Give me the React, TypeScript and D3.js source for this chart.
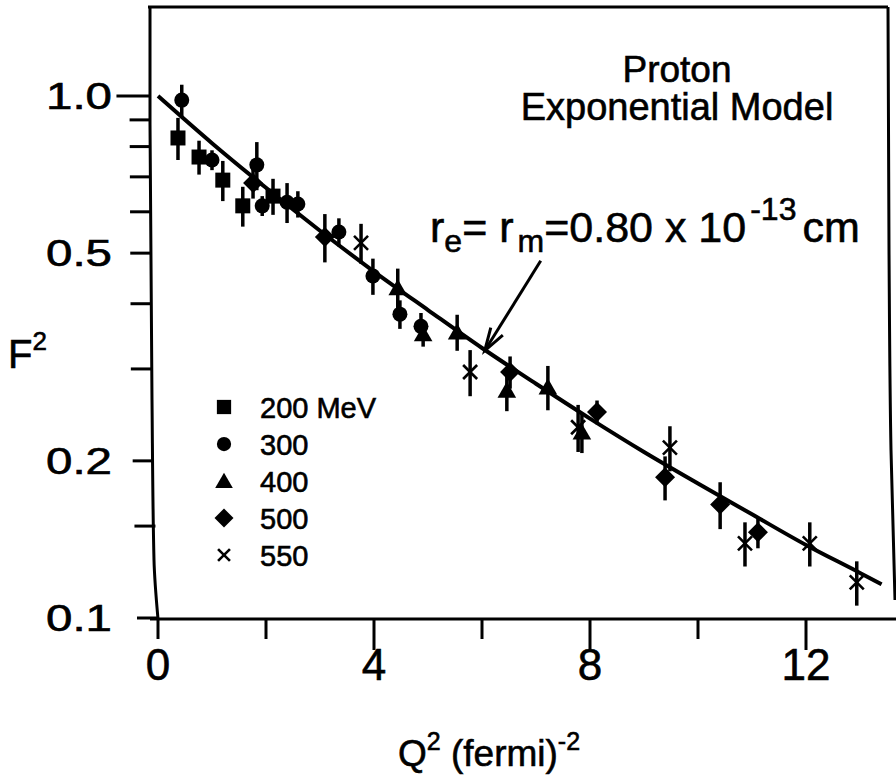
import React from 'react'
import * as d3 from 'd3'

// exponential model curve (Q^2 in fermi^-2, F^2)
const curveQ = [0, 1, 2, 3, 4, 5, 6, 7, 8, 9, 10, 11, 12, 13, 13.4]
const curveF = [1.0, 0.812, 0.667, 0.552, 0.461, 0.389, 0.329, 0.281, 0.241, 0.208, 0.181, 0.158, 0.138, 0.122, 0.116]

// [Q^2, F^2, error]
const mev200 = [
  [0.37, 0.831, 0.077],
  [0.76, 0.764, 0.057],
  [1.2, 0.69, 0.061],
  [1.57, 0.616, 0.054],
  [2.13, 0.643, 0.051],
]
const mev300 = [
  [0.44, 0.982, 0.069],
  [1.0, 0.754, 0.033],
  [1.83, 0.738, 0.078],
  [1.93, 0.616, 0.027],
  [2.39, 0.626, 0.055],
  [2.59, 0.621, 0.036],
  [3.35, 0.549, 0.034],
  [3.98, 0.452, 0.036],
  [4.48, 0.382, 0.024],
  [4.87, 0.362, 0.022],
]
const mev400 = [
  [4.44, 0.429, 0.038],
  [4.91, 0.35, 0.019],
  [5.54, 0.353, 0.028],
  [6.46, 0.273, 0.024],
  [7.22, 0.277, 0.027],
  [7.85, 0.227, 0.02],
]
const mev500 = [
  [1.76, 0.681, 0.045],
  [3.09, 0.537, 0.057],
  [6.52, 0.296, 0.021],
  [8.13, 0.248, 0.013],
  [9.39, 0.186, 0.018],
  [10.41, 0.165, 0.017],
  [11.11, 0.146, 0.01],
]
const mev550 = [
  [3.76, 0.523, 0.046],
  [5.78, 0.296, 0.03],
  [7.78, 0.232, 0.024],
  [9.48, 0.212, 0.021],
  [10.87, 0.139, 0.0135],
  [12.07, 0.139, 0.0135],
  [12.94, 0.117, 0.0114],
]

const legendLabels = ['200 MeV', '300', '400', '500', '550']
const seriesKinds = ['square', 'circle', 'triangle', 'diamond', 'cross']
const seriesData = [mev200, mev300, mev400, mev500, mev550]

const yTicks = [1.0, 0.9, 0.8, 0.7, 0.6, 0.5, 0.4, 0.3, 0.2, 0.15, 0.1]
const yTickLabels = ['1.0', '0.5', '0.2', '0.1']
const xTicks = [0, 2, 4, 6, 8, 10, 12]
const xTickLabels = ['0', '4', '8', '12']

const font = '"Liberation Sans", Arial, Helvetica, sans-serif'
// scanned print is a bit heavier than the regular face
const ink = { fill: '#000', stroke: '#000', strokeWidth: 0.6 }

const x = d3.scaleLinear().domain([0, 12]).range([158, 806])
const y = d3.scaleLog().domain([0.1, 1]).range([618, 96])
// the hand drawn left axis leans a little
const leftX = (py: number) => d3.scaleLinear().domain([7, 400, 619]).range([150, 152, 158])(py)

const Marker = ({ kind, cx, cy, s = 1 }: { kind: string; cx: number; cy: number; s?: number }) => {
  if (kind === 'square') return <rect x={cx - 7.5 * s} y={cy - 7.5 * s} width={15 * s} height={15 * s} fill="#000" />
  if (kind === 'circle') return <circle cx={cx} cy={cy} r={7.5 * s} fill="#000" />
  if (kind === 'triangle') {
    const p = d3.symbol(d3.symbolTriangle, 150 * s * s)()
    return <path d={p || ''} transform={`translate(${cx},${cy + 2})`} fill="#000" />
  }
  if (kind === 'diamond') {
    const r = 10 * s
    return <path d={`M${cx},${cy - r}L${cx + r},${cy}L${cx},${cy + r}L${cx - r},${cy}Z`} fill="#000" />
  }
  const r = 7 * s
  return (
    <g stroke="#000" strokeWidth={2.6}>
      <line x1={cx - r} y1={cy - r} x2={cx + r} y2={cy + r} />
      <line x1={cx - r} y1={cy + r} x2={cx + r} y2={cy - r} />
    </g>
  )
}

export default function App() {
  const line = d3
    .line<number>()
    .x((_, i) => x(curveQ[i]))
    .y((d) => y(d))
    .curve(d3.curveMonotoneX)

  const leftFrame = d3.line().curve(d3.curveMonotoneY)([
    [150, 7],
    [150, 110],
    [152, 400],
    [154, 560],
    [158, 619],
  ])
  const rightFrame = d3.line().curve(d3.curveMonotoneY)([
    [888, 7],
    [889, 250],
    [891, 450],
    [895, 600],
  ])

  // arrow pointing at the curve
  const tipX = x(6.05)
  const tipY = y(0.325)
  const sx = tipX + 56
  const sy = tipY - 90
  const ang = Math.atan2(sy - tipY, sx - tipX)
  const headL = 24
  const h1 = [tipX + headL * Math.cos(ang + 0.3), tipY + headL * Math.sin(ang + 0.3)]
  const h2 = [tipX + headL * Math.cos(ang - 0.3), tipY + headL * Math.sin(ang - 0.3)]

  return (
    <svg width={896} height={780} style={{ position: 'absolute', left: 0, top: 0, background: '#fff' }}>
      <rect width={896} height={780} fill="#fff" />
      {/* frame */}
      <path d={leftFrame || ''} fill="none" stroke="#000" strokeWidth={3} />
      <line x1={148} y1={7} x2={888} y2={7} stroke="#000" strokeWidth={3} />
      <path d={rightFrame || ''} fill="none" stroke="#000" strokeWidth={3} />
      <line x1={150} y1={619} x2={896} y2={619} stroke="#000" strokeWidth={3} />

      {/* y ticks */}
      {yTicks.map((t) => {
        const py = y(t)
        const ax = leftX(py)
        const len = t === 1 ? 34 : 21
        return <line key={t} x1={ax - len} y1={py} x2={ax} y2={py} stroke="#000" strokeWidth={3} />
      })}
      {yTickLabels.map((l) => (
        <text
          key={l}
          x={46}
          y={y(+l) + 13}
          fontFamily={font}
          fontSize={36}
          textLength={66}
          lengthAdjust="spacingAndGlyphs"
          {...ink}
        >
          {l}
        </text>
      ))}

      {/* x ticks */}
      {xTicks.map((t) => (
        <line
          key={t}
          x1={x(t)}
          y1={619}
          x2={x(t)}
          y2={t > 0 && t % 4 === 0 ? 650 : 639}
          stroke="#000"
          strokeWidth={3}
        />
      ))}
      {xTickLabels.map((l) => (
        <text key={l} x={x(+l)} y={680} textAnchor="middle" fontFamily={font} fontSize={44} {...ink}>
          {l}
        </text>
      ))}

      {/* axis titles */}
      <text x={398} y={766} fontFamily={font} fontSize={37} {...ink}>
        Q<tspan fontSize={25} dy={-16}>2</tspan>
        <tspan dy={16}> (fermi)</tspan>
        <tspan fontSize={25} dy={-16}>-2</tspan>
      </text>
      <text x={8} y={368} fontFamily={font} fontSize={40} {...ink}>
        F<tspan fontSize={26} dy={-18}>2</tspan>
      </text>

      {/* model curve */}
      <path d={line(curveF) || ''} fill="none" stroke="#000" strokeWidth={4} />

      {/* data */}
      {seriesData.map((data, si) => (
        <g key={si}>
          {data.map(([q, f, e], i) => (
            <g key={i}>
              <line x1={x(q)} y1={y(f - e)} x2={x(q)} y2={y(f + e)} stroke="#000" strokeWidth={3.5} />
              <Marker kind={seriesKinds[si]} cx={x(q)} cy={y(f)} />
            </g>
          ))}
        </g>
      ))}

      {/* legend */}
      {legendLabels.map((l, i) => (
        <g key={l}>
          <Marker kind={seriesKinds[i]} cx={224} cy={407 + i * 37} s={i === 4 ? 0.85 : 0.95} />
          <text x={260} y={418 + i * 37} fontFamily={font} fontSize={29} {...ink}>
            {l}
          </text>
        </g>
      ))}

      {/* title */}
      <text x={677} y={82} textAnchor="middle" fontFamily={font} fontSize={37} {...ink}>
        Proton
      </text>
      <text x={677} y={120} textAnchor="middle" fontFamily={font} fontSize={38} {...ink}>
        Exponential Model
      </text>

      {/* annotation */}
      <text x={430} y={242} fontFamily={font} fontSize={43} {...ink}>
        r<tspan fontSize={32} dy={10}>e</tspan>
        <tspan dy={-10}>= r</tspan>
        <tspan fontSize={32} dx={4} dy={10}>m</tspan>
        <tspan dy={-10}>=0.80 x 10</tspan>
        <tspan fontSize={32} dx={4} dy={-22}>-13</tspan>
        <tspan dx={6} dy={22}>cm</tspan>
      </text>
      <line x1={sx} y1={sy} x2={tipX} y2={tipY} stroke="#000" strokeWidth={3} />
      <path d={`M${h1[0]},${h1[1]}L${tipX},${tipY}L${h2[0]},${h2[1]}`} fill="none" stroke="#000" strokeWidth={3} />
    </svg>
  )
}
